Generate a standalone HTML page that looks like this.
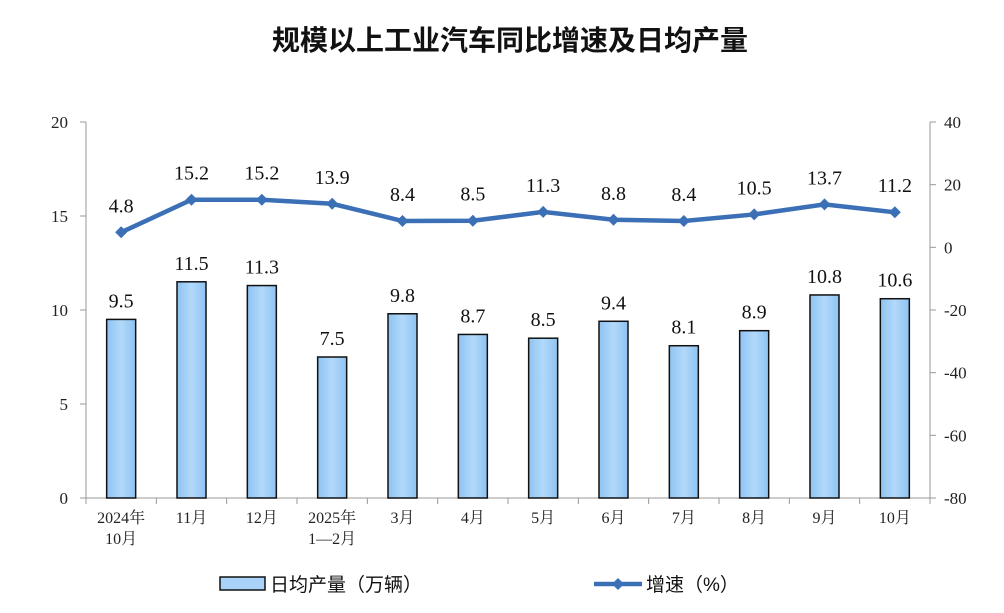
<!DOCTYPE html>
<html><head><meta charset="utf-8"><style>
body{margin:0;background:#fff;}
svg{display:block;font-family:"Liberation Serif","Noto Serif CJK SC",serif;}
</style></head><body>
<svg id="c" width="1004" height="613">
<text x="510" y="50" text-anchor="middle" font-size="28" font-weight="bold" font-family="'Liberation Sans','Noto Sans CJK SC',sans-serif" fill="#111">规模以上工业汽车同比增速及日均产量</text>
<g id="g"></g>
</svg>
<script>
const categories=[["2024年","10月"],["11月"],["12月"],["2025年","1—2月"],["3月"],["4月"],["5月"],["6月"],["7月"],["8月"],["9月"],["10月"]];
const barValues=[9.5,11.5,11.3,7.5,9.8,8.7,8.5,9.4,8.1,8.9,10.8,10.6];
const lineValues=[4.8,15.2,15.2,13.9,8.4,8.5,11.3,8.8,8.4,10.5,13.7,11.2];
const leftTicks=[0,5,10,15,20];
const rightTicks=[-80,-60,-40,-20,0,20,40];
const NS="http://www.w3.org/2000/svg";
const g=document.getElementById('g');
const L=86,R=930,T=122,B=498;
const yL=v=>B-(v-0)/20*(B-T);
const yR=v=>B-(v+80)/120*(B-T);
const step=(R-L)/categories.length;
const xC=i=>L+step*(i+0.5);
function mk(t,a,txt){const e=document.createElementNS(NS,t);for(const k in a)e.setAttribute(k,a[k]);if(txt!=null)e.textContent=txt;g.appendChild(e);return e;}
let e;
e=mk('line',{x1:L,y1:T,x2:L,y2:B,stroke:'#999'});


e=mk('line',{x1:R,y1:T,x2:R,y2:B,stroke:'#999'});


e=mk('line',{x1:L,y1:B,x2:R,y2:B,stroke:'#999'});


leftTicks.forEach(v=>{
 mk('line',{x1:L-6,y1:yL(v),x2:L,y2:yL(v),stroke:'#999'});
 e=mk('text',{x:L-18,y:yL(v)+6,'text-anchor':'end','font-size':17,fill:'#222'},v);
 
 
});
rightTicks.forEach(v=>{
 mk('line',{x1:R,y1:yR(v),x2:R+6,y2:yR(v),stroke:'#999'});
 e=mk('text',{x:R+14,y:yR(v)+6,'text-anchor':'start','font-size':17,fill:'#222'},v);
 
 
});
const defs=document.createElementNS(NS,'defs');
defs.innerHTML='<linearGradient id="bg" x1="0" x2="1"><stop offset="0" stop-color="#8ec3f2"/><stop offset="0.5" stop-color="#b2d9fa"/><stop offset="1" stop-color="#8ec3f2"/></linearGradient>';
g.appendChild(defs);
categories.forEach((c,i)=>{
 mk('line',{x1:L+step*i,y1:B,x2:L+step*i,y2:B+6,stroke:'#999'});
 c.forEach((s,j)=>{
  e=mk('text',{x:xC(i),y:B+25+j*21,'text-anchor':'middle','font-size':16,fill:'#222'},s);
  
  
 });
});
mk('line',{x1:R,y1:B,x2:R,y2:B+6,stroke:'#999'});
barValues.forEach((v,i)=>{
 e=mk('rect',{x:xC(i)-14.5,y:yL(v),width:29,height:B-yL(v),fill:'url(#bg)',stroke:'#111','stroke-width':1.5});
 
 
 e=mk('text',{x:xC(i),y:yL(v)-12,'text-anchor':'middle','font-size':20,fill:'#111'},v.toFixed(1));
 
 
});
e=mk('polyline',{points:lineValues.map((v,i)=>xC(i)+','+yR(v)).join(' '),fill:'none',stroke:'#3b6fb6','stroke-width':4.5});


lineValues.forEach((v,i)=>{
 const x=xC(i),y=yR(v);
 e=mk('polygon',{points:`${x},${y-6} ${x+6},${y} ${x},${y+6} ${x-6},${y}`,fill:'#3b6fb6'});
 
 
 e=mk('text',{x:x,y:y-20,'text-anchor':'middle','font-size':20,fill:'#111'},v.toFixed(1));
 
 
});
e=mk('rect',{x:220,y:577,width:45,height:13,fill:'#a8d2f7',stroke:'#111','stroke-width':1.5});


e=mk('text',{x:270,y:591,'font-size':19,fill:'#111','font-family':"'Liberation Sans','Noto Sans CJK SC',sans-serif"},'日均产量（万辆）');


e=mk('line',{x1:594,y1:584,x2:642,y2:584,stroke:'#3b6fb6','stroke-width':4.5});


mk('polygon',{points:'618,578 624,584 618,590 612,584',fill:'#3b6fb6'});
e=mk('text',{x:646,y:591,'font-size':19,fill:'#111','font-family':"'Liberation Sans','Noto Sans CJK SC',sans-serif"},'增速（%）');


</script>
</body></html>
